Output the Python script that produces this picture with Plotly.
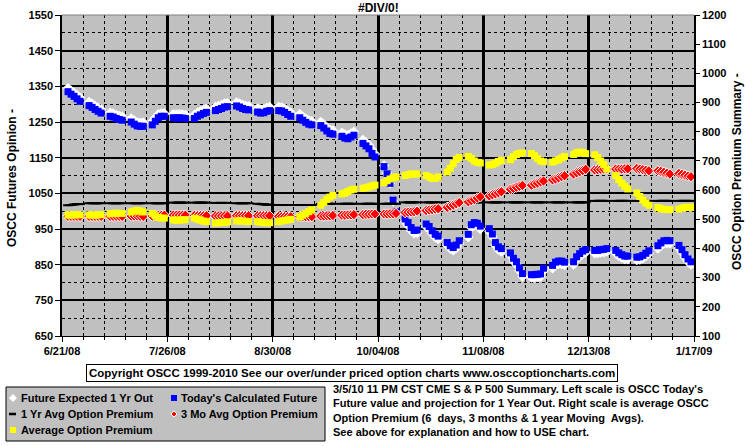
import pandas as pd
import plotly.graph_objects as go

# ---------------- data (weekday values, 6/23/08 .. 1/16/09) ----------------
trade_dates = pd.bdate_range("2008-06-23", "2009-01-16")

future_1yr = [
    1345, 1338, 1332, 1325, 1318, 1306, 1301, 1295, 1290, 1285,
    1276, 1274, 1270, 1267, 1265, 1260, 1254, 1249, 1248, 1248,
    1252, 1262, 1272, 1274, 1274, 1272, 1271, 1272, 1271, 1270,
    1270, 1276, 1280, 1284, 1287, 1292, 1295, 1298, 1302, 1303,
    1305, 1302, 1298, 1295, 1294, 1288, 1285, 1286, 1290, 1292,
    1292, 1291, 1287, 1281, 1276, 1272, 1265, 1259, 1254, 1252,
    1250, 1243, 1235, 1228, 1226, 1220, 1215, 1213, 1218, 1223,
    1200, 1193, 1185, 1172, 1160, 1128, 1106, 1078, 1028, 993,
    970, 960, 946, 938, 939, 956, 949, 937, 927, 922,
    904, 895, 890, 897, 909, 927, 954, 960, 958, 950,
    943, 928, 904, 892, 887, 875, 860, 850, 833, 817,
    814, 814, 815, 816, 832, 840, 849, 852, 852, 849,
    850, 864, 873, 880, 884, 882, 882, 884, 885, 887,
    882, 875, 870, 866, 866, 863, 864, 868, 874, 881,
    895, 903, 909, 910, 909, 896, 884, 870, 858, 850,
]

todays_future = [
    1335, 1328, 1322, 1315, 1308, 1296, 1291, 1285, 1280, 1275,
    1266, 1264, 1260, 1257, 1255, 1250, 1244, 1239, 1238, 1238,
    1242, 1252, 1262, 1266, 1266, 1262, 1261, 1262, 1261, 1260,
    1260, 1266, 1270, 1274, 1277, 1282, 1285, 1288, 1292, 1293,
    1295, 1292, 1288, 1285, 1284, 1278, 1275, 1276, 1280, 1282,
    1282, 1281, 1277, 1271, 1266, 1262, 1255, 1249, 1244, 1242,
    1240, 1233, 1225, 1218, 1216, 1210, 1205, 1203, 1208, 1213,
    1190, 1183, 1175, 1162, 1152, 1125, 1105, 1078, 1031, 998,
    978, 968, 954, 946, 947, 964, 957, 945, 935, 930,
    912, 903, 898, 905, 917, 935, 962, 968, 966, 958,
    951, 936, 912, 900, 895, 883, 868, 858, 841, 825,
    822, 822, 823, 824, 840, 848, 857, 860, 860, 857,
    858, 872, 881, 888, 892, 890, 890, 892, 893, 895,
    890, 883, 878, 874, 874, 871, 872, 876, 882, 889,
    903, 911, 917, 918, 917, 904, 892, 878, 866, 858,
]

avg_1yr = [
    548, 549, 551, 552, 552, 555, 555, 555, 555, 555,
    555, 555, 555, 555, 555, 555, 555, 555, 555, 555,
    555, 555, 555, 555, 555, 557, 557, 557, 557, 557,
    557, 557, 557, 557, 557, 556, 556, 556, 556, 556,
    555, 555, 555, 555, 555, 553, 552, 551, 550, 550,
    549, 549, 549, 549, 549, 549, 549, 549, 549, 549,
    553, 553, 553, 553, 553, 553, 553, 553, 553, 553,
    553, 553, 553, 553, 553, 553, 553, 553, 553, 553,
    558, 558, 558, 558, 558, 558, 558, 558, 558, 558,
    558, 558, 558, 558, 558, 558, 558, 558, 558, 558,
    558, 558, 558, 558, 558, 558, 558, 558, 558, 558,
    558, 558, 558, 558, 558, 558, 558, 558, 558, 558,
    558, 558, 558, 558, 558, 563, 563, 563, 563, 563,
    563, 563, 563, 563, 563, 563, 563, 563, 563, 563,
    563, 563, 563, 563, 563, 563, 563, 563, 563, 563,
]

avg_3mo = [
    510, 510, 510, 510, 510, 510, 510, 510, 510, 510,
    510, 510, 510, 510, 510, 511, 511, 511, 510, 510,
    511, 512, 513, 513, 514, 514, 514, 514, 514, 514,
    513, 512, 512, 512, 512, 511, 511, 511, 511, 511,
    512, 512, 512, 512, 512, 512, 512, 512, 512, 512,
    510, 509, 509, 509, 509, 509, 509, 509, 509, 509,
    511, 511, 512, 512, 513, 514, 514, 515, 515, 516,
    516, 517, 517, 518, 518, 518, 518, 519, 519, 520,
    523, 524, 525, 526, 528, 530, 532, 533, 535, 536,
    541, 545, 549, 553, 557, 560, 564, 568, 573, 577,
    580, 584, 587, 591, 594, 603, 606, 610, 613, 616,
    617, 621, 624, 628, 631, 635, 638, 642, 646, 649,
    655, 659, 663, 667, 671, 669, 670, 671, 672, 673,
    672, 672, 672, 673, 673, 674, 672, 670, 668, 666,
    666, 664, 661, 658, 655, 657, 654, 651, 648, 646,
]

avg_premium = [
    515, 514, 515, 516, 515, 515, 515, 514, 515, 516,
    519, 520, 521, 520, 520, 525, 528, 530, 528, 525,
    520, 512, 506, 504, 504, 498, 497, 497, 498, 499,
    504, 500, 497, 494, 492, 487, 488, 489, 490, 491,
    494, 495, 494, 493, 492, 492, 490, 489, 488, 488,
    492, 494, 496, 498, 500, 508, 514, 520, 526, 532,
    548, 558, 568, 576, 582, 587, 590, 595, 600, 603,
    606, 608, 611, 614, 617, 625, 632, 638, 642, 645,
    650, 653, 655, 655, 655, 650, 645, 640, 640, 645,
    662, 675, 690, 705, 712, 715, 708, 700, 695, 693,
    686, 688, 692, 698, 702, 704, 714, 722, 726, 727,
    725, 718, 708, 700, 697, 696, 700, 704, 710, 715,
    722, 728, 730, 728, 725, 721, 712, 700, 688, 672,
    650, 636, 624, 613, 604, 590, 578, 566, 556, 548,
    540, 536, 534, 533, 533, 535, 538, 540, 541, 541,
]

x_start, x_end = "2008-06-21", "2009-01-17"
tick_format = "%-m/%d/%y"       # 6/21/08, 10/04/08, 1/17/09

series_names = ["Future Expected 1 Yr Out", "Today's Calculated Future",
                "1 Yr Avg Option Premium", "3 Mo Avg Option Premium",
                "Average Option Premium"]

# ---------------- geometry helpers (plot area 62..694 x 15..336 px) ----------------
L, R, T, B = 62, 694, 15, 336
def px(x):
    return (x - L) / (R - L)
def py(y):
    return (B - y) / (B - T)

FONT = "Liberation Sans, Arial, sans-serif"
DAY = 86400000

# line with gaps over weekends
line_x, line_y = [], []
for d, v in zip(trade_dates, avg_1yr):
    line_x.append(d)
    line_y.append(v)
    if d.weekday() == 4:
        line_x.append(d + pd.Timedelta(days=1))
        line_y.append(None)

fig = go.Figure()
fig.add_trace(go.Scatter(x=trade_dates, y=future_1yr, mode="markers", name=series_names[0],
                         marker=dict(symbol="diamond", size=8, color="white", line=dict(width=0)),
                         yaxis="y"))
fig.add_trace(go.Scatter(x=trade_dates, y=todays_future, mode="markers", name=series_names[1],
                         marker=dict(symbol="square", size=7, color="#0000FF", line=dict(width=0)),
                         yaxis="y"))
fig.add_trace(go.Scatter(x=line_x, y=line_y, mode="lines+markers", name=series_names[2],
                         line=dict(color="black", width=2), connectgaps=False,
                         marker=dict(symbol="line-ew", size=7, line=dict(color="black", width=2)),
                         yaxis="y2"))
fig.add_trace(go.Scatter(x=trade_dates, y=avg_3mo, mode="markers", name=series_names[3],
                         marker=dict(symbol="diamond", size=8, color="#FF0000",
                                     line=dict(width=1, color="white")),
                         yaxis="y2"))
fig.add_trace(go.Scatter(x=trade_dates, y=avg_premium, mode="markers", name=series_names[4],
                         marker=dict(symbol="square", size=7, color="#FFFF00", line=dict(width=0)),
                         yaxis="y2"))

fig.update_layout(
    template="none",
    width=755, height=446,
    margin=dict(l=L, r=755 - R, t=T, b=446 - B, pad=0, autoexpand=False),
    paper_bgcolor="white", plot_bgcolor="#C0C0C0",
    showlegend=False,
    font=dict(family=FONT, size=11, color="black", weight="bold"),
    xaxis=dict(
        type="date", range=[x_start, x_end], automargin=False,
        tickmode="linear", tick0=x_start, dtick=35 * DAY, tickformat=tick_format,
        showgrid=True, gridcolor="black", gridwidth=2.5,
        ticks="outside", ticklen=5, tickcolor="black", tickwidth=1,
        showline=True, linecolor="black", linewidth=1,
        zeroline=False,
        tickfont=dict(family=FONT, size=11, color="black", weight="bold"),
        minor=dict(tickmode="linear", dtick=7 * DAY, tick0=x_start, showgrid=True,
                   gridcolor="black", gridwidth=1, griddash="3px,3px",
                   ticks="outside", ticklen=3, tickcolor="black"),
    ),
    yaxis=dict(
        range=[650, 1550], tickmode="linear", tick0=650, dtick=100, automargin=False,
        showgrid=True, gridcolor="black", gridwidth=1.5,
        ticks="outside", ticklen=5, tickcolor="black",
        showline=True, linecolor="black", linewidth=1.5,
        zeroline=False,
        tickfont=dict(family=FONT, size=11, color="black", weight="bold"),
        minor=dict(tickmode="linear", tick0=650, dtick=50, showgrid=True, gridcolor="black",
                   gridwidth=1, griddash="3px,3px"),
    ),
    yaxis2=dict(
        range=[100, 1200], tickmode="linear", tick0=100, dtick=100, automargin=False,
        overlaying="y", side="right",
        showgrid=False, ticks="outside", ticklen=4, tickcolor="black",
        showline=True, linecolor="black", linewidth=1.5, zeroline=False,
        tickfont=dict(family=FONT, size=11, color="black", weight="bold"),
    ),
)

shapes = [
    # top border of plot area
    dict(type="line", xref="paper", yref="paper", x0=0, x1=1, y0=1, y1=1,
         line=dict(color="#808080", width=1)),
    # legend box
    dict(type="rect", xref="paper", yref="paper", x0=px(6), x1=px(325), y0=py(441), y1=py(387),
         fillcolor="#C0C0C0", line=dict(color="black", width=1)),
    # legend symbols
    dict(type="path", xref="paper", yref="paper",
         path=f"M {px(9)},{py(398)} L {px(13)},{py(394)} L {px(17)},{py(398)} L {px(13)},{py(402)} Z",
         fillcolor="white", line=dict(width=0)),
    dict(type="rect", xref="paper", yref="paper", x0=px(171), x1=px(177), y0=py(401), y1=py(395),
         fillcolor="#0000FF", line=dict(width=0)),
    dict(type="line", xref="paper", yref="paper", x0=px(9), x1=px(16), y0=py(414), y1=py(414),
         line=dict(color="black", width=2.5)),
    dict(type="path", xref="paper", yref="paper",
         path=f"M {px(171)},{py(414)} L {px(174)},{py(411)} L {px(177)},{py(414)} L {px(174)},{py(417)} Z",
         fillcolor="#FF0000", line=dict(width=1, color="white")),
    dict(type="rect", xref="paper", yref="paper", x0=px(10), x1=px(16), y0=py(433), y1=py(427),
         fillcolor="#FFFF00", line=dict(width=0)),
]
fig.update_layout(shapes=shapes)

bold = dict(family=FONT, size=11, color="black", weight="bold")
ann = [
    dict(text="#DIV/0!", x=0.5, y=py(8), xref="paper", yref="paper", showarrow=False,
         xanchor="center", yanchor="middle", font=dict(family=FONT, size=12, color="black", weight="bold")),
    dict(text="OSCC Futures Opinion -", x=px(12), y=py(178), xref="paper", yref="paper",
         showarrow=False, textangle=-90, xanchor="center", yanchor="middle",
         font=dict(family=FONT, size=12, color="black", weight="bold")),
    dict(text="OSCC Option Premium Summary -", x=px(737), y=py(172), xref="paper", yref="paper",
         showarrow=False, textangle=-90, xanchor="center", yanchor="middle",
         font=dict(family=FONT, size=12, color="black", weight="bold")),
    dict(text="Copyright OSCC 1999-2010 See our over/under priced option charts www.osccoptioncharts.com",
         x=px(351.5), y=py(372.5), xref="paper", yref="paper", showarrow=False,
         xanchor="center", yanchor="middle", bgcolor="white", bordercolor="black",
         borderwidth=1, borderpad=2, font=dict(family=FONT, size=11.5, color="black", weight="bold")),
    dict(text=series_names[0], x=px(19), y=py(398), xref="paper", yref="paper", showarrow=False,
         xanchor="left", yanchor="middle", font=bold),
    dict(text=series_names[1], x=px(179), y=py(398), xref="paper", yref="paper", showarrow=False,
         xanchor="left", yanchor="middle", font=bold),
    dict(text=series_names[2], x=px(19), y=py(414), xref="paper", yref="paper", showarrow=False,
         xanchor="left", yanchor="middle", font=bold),
    dict(text=series_names[3], x=px(179), y=py(414), xref="paper", yref="paper", showarrow=False,
         xanchor="left", yanchor="middle", font=bold),
    dict(text=series_names[4], x=px(19), y=py(430), xref="paper", yref="paper", showarrow=False,
         xanchor="left", yanchor="middle", font=bold),
    dict(text=("3/5/10 11 PM CST CME S &amp; P 500 Summary. Left scale is OSCC Today's<br>"
               "Future value and projection for 1 Year Out. Right scale is average OSCC<br>"
               "Option Premium (6  days, 3 months &amp; 1 year Moving  Avgs).<br>"
               "See above for explanation and how to USE chart."),
         x=px(331), y=py(381), xref="paper", yref="paper", showarrow=False,
         xanchor="left", yanchor="top", align="left", font=bold),
]
fig.update_layout(annotations=ann)

fig.write_html("out.html",
               config={"displayModeBar": False},
               post_script="document.body.style.margin='0';document.body.style.overflow='hidden';")
